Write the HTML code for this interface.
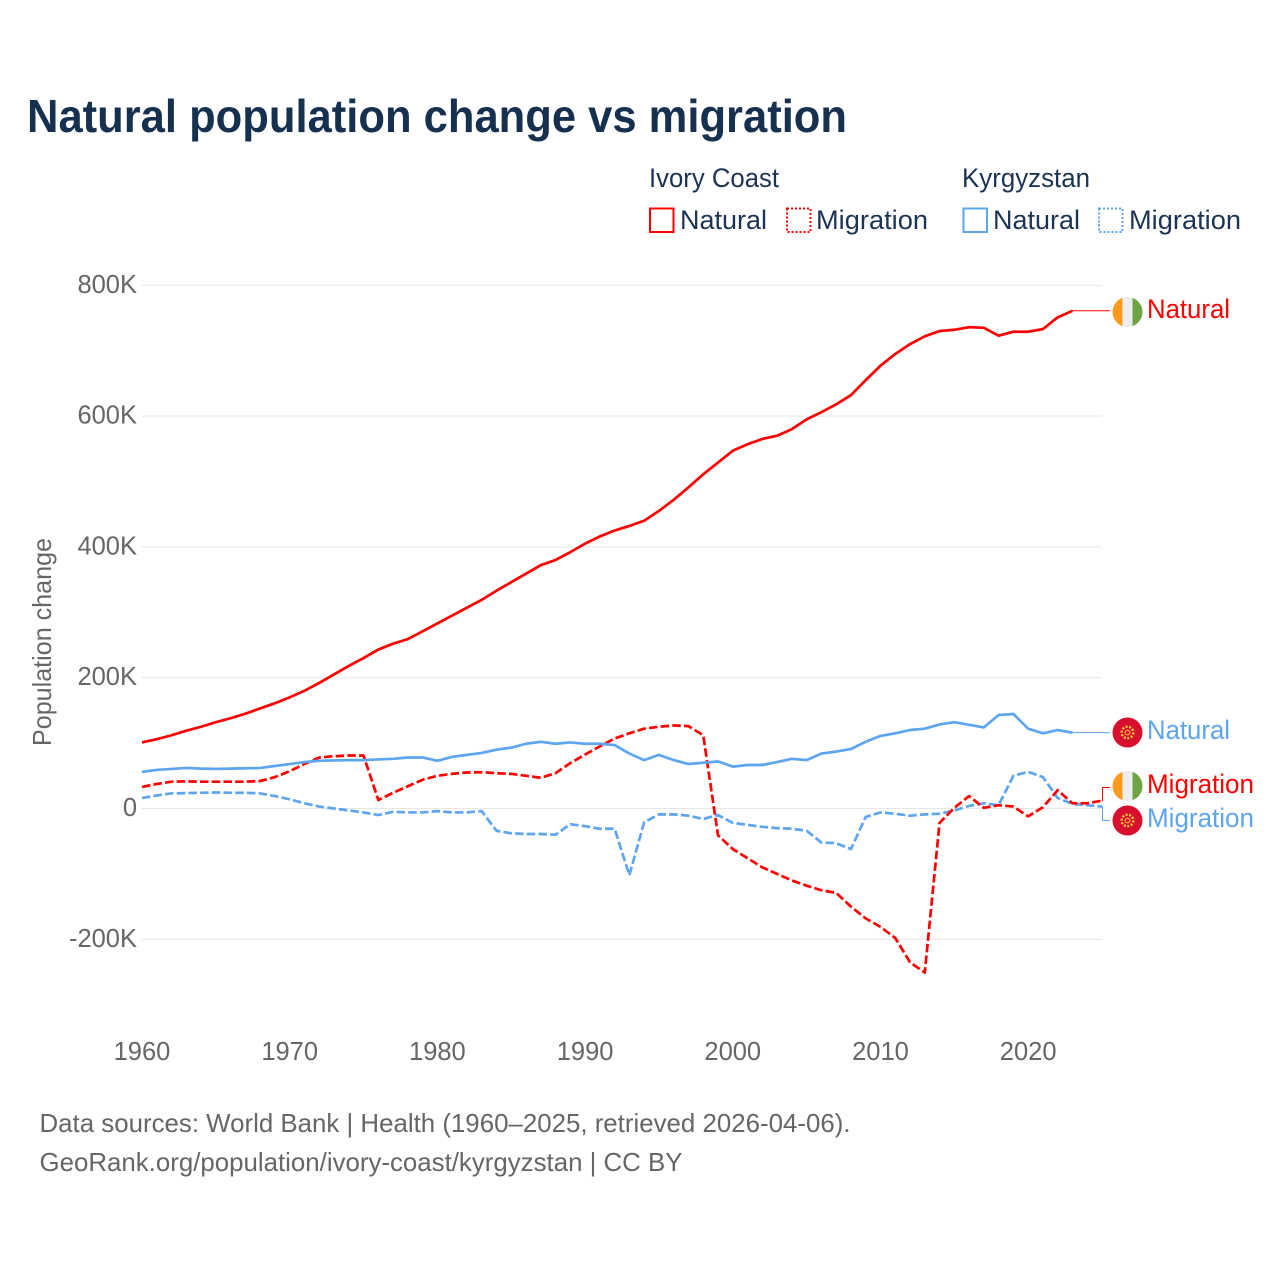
<!DOCTYPE html>
<html lang="en">
<head>
<meta charset="utf-8">
<title>Natural population change vs migration</title>
<style>
html,body{margin:0;padding:0;background:#fff;}
svg{display:block;}
text{font-family:"Liberation Sans",sans-serif;}
</style>
</head>
<body>
<svg id="chart" xmlns="http://www.w3.org/2000/svg" width="1280" height="1280" viewBox="0 0 1280 1280">
  <rect x="0" y="0" width="1280" height="1280" fill="#ffffff"/>
  <text x="27" y="132" font-size="46" font-weight="700" fill="#16304f" textLength="820" lengthAdjust="spacingAndGlyphs">Natural population change vs migration</text>

  <g font-size="26.5" fill="#1b3454">
    <text x="649" y="187" textLength="130" lengthAdjust="spacingAndGlyphs">Ivory Coast</text>
    <text x="962" y="187" textLength="128" lengthAdjust="spacingAndGlyphs">Kyrgyzstan</text>
    <rect x="650" y="208.5" width="23.5" height="23.5" fill="none" stroke="#ff0000" stroke-width="2"/>
    <text x="680" y="229" textLength="87" lengthAdjust="spacingAndGlyphs">Natural</text>
    <rect x="787" y="208.5" width="23.5" height="23.5" fill="none" stroke="#ff0000" stroke-width="2" stroke-dasharray="2 2"/>
    <text x="816" y="229" textLength="112" lengthAdjust="spacingAndGlyphs">Migration</text>
    <rect x="963.5" y="208.5" width="23.5" height="23.5" fill="none" stroke="#5ea5ef" stroke-width="2"/>
    <text x="993" y="229" textLength="87" lengthAdjust="spacingAndGlyphs">Natural</text>
    <rect x="1099" y="208.5" width="23.5" height="23.5" fill="none" stroke="#5ea5ef" stroke-width="2" stroke-dasharray="2 2"/>
    <text x="1129" y="229" textLength="112" lengthAdjust="spacingAndGlyphs">Migration</text>
  </g>

  <g id="grid"></g>
  <g id="yticks" font-size="25.5" fill="#666666" text-anchor="end"></g>
  <g id="xticks" font-size="25.5" fill="#666666" text-anchor="middle"></g>
  <text transform="translate(51,746) rotate(-90)" font-size="26" fill="#666666" textLength="208" lengthAdjust="spacingAndGlyphs">Population change</text>

  <g id="connectors"></g>
  <g id="series"></g>

  <defs>
    <clipPath id="flag-clip"><circle cx="0" cy="0" r="15"/></clipPath>
  </defs>

  <g transform="translate(1127.5,312)">
    <g clip-path="url(#flag-clip)">
      <rect x="-15" y="-15" width="10" height="30" fill="#ff9a1f"/>
      <rect x="-5" y="-15" width="10" height="30" fill="#eeeeee"/>
      <rect x="5" y="-15" width="10" height="30" fill="#6da544"/>
    </g>
  </g>
  <g transform="translate(1127.5,786)">
    <g clip-path="url(#flag-clip)">
      <rect x="-15" y="-15" width="10" height="30" fill="#ff9a1f"/>
      <rect x="-5" y="-15" width="10" height="30" fill="#eeeeee"/>
      <rect x="5" y="-15" width="10" height="30" fill="#6da544"/>
    </g>
  </g>
  <g transform="translate(1127.5,732.5)">
    <circle r="15" fill="#d80f2e"/>
    <circle r="5.8" fill="none" stroke="#ffce3a" stroke-width="2.4" stroke-dasharray="2 1.6"/>
    <circle r="2.4" fill="none" stroke="#ffce3a" stroke-width="1"/>
  </g>
  <g transform="translate(1127.5,820.5)">
    <circle r="15" fill="#d80f2e"/>
    <circle r="5.8" fill="none" stroke="#ffce3a" stroke-width="2.4" stroke-dasharray="2 1.6"/>
    <circle r="2.4" fill="none" stroke="#ffce3a" stroke-width="1"/>
  </g>

  <g font-size="26.5">
    <text x="1147" y="318" fill="#ff0000" textLength="83" lengthAdjust="spacingAndGlyphs">Natural</text>
    <text x="1147" y="739" fill="#5ea5ef" textLength="83" lengthAdjust="spacingAndGlyphs">Natural</text>
    <text x="1147" y="793" fill="#ff0000" textLength="107" lengthAdjust="spacingAndGlyphs">Migration</text>
    <text x="1147" y="827" fill="#5ea5ef" textLength="107" lengthAdjust="spacingAndGlyphs">Migration</text>
  </g>

  <g font-size="26" fill="#666666">
    <text x="39.5" y="1132" textLength="811" lengthAdjust="spacingAndGlyphs">Data sources: World Bank | Health (1960–2025, retrieved 2026-04-06).</text>
    <text x="39.5" y="1171" textLength="643" lengthAdjust="spacingAndGlyphs">GeoRank.org/population/ivory-coast/kyrgyzstan | CC BY</text>
  </g>
</svg>

<script>
const startYear = 1960;
const xTickLabels = [1960, 1970, 1980, 1990, 2000, 2010, 2020];
const yTickValues = [-200, 0, 200, 400, 600, 800];
const yTickLabels = ["-200K", "0", "200K", "400K", "600K", "800K"];

const ivoryNatural = [101,106,112,119,125,132,138,145,153,161,170,180,192,205,218,230,243,252,259,271,283,295,307,319,333,346,359,372,380,392,405,416,425,432,440,455,472,491,511,529,547,557,565,570,580,595,606,618,632,655,677,695,710,722,730,732,736,735,723,729,729,733,751,761];
const kyrgyzNatural = [56,59,60.5,62,61,60.5,61,61.5,62,65,68,71,73,73.5,74,74,75,76,78,78,73,79,82,85,90,93,99,102,99,101,99,99,97,84,74,82,74,68,70,72,64,66.5,66.5,71,76,74,84,87,91,102,111,115,120,122,128.5,132,128,124,143,144.5,122,115,120,116];
const ivoryMigration = [33,37.5,41,41.5,41,41,41,41,42,48,57,68,78,80,81,81,13,24,34,44,50,53,55,55.5,54,53,50,47,54,69.5,82.5,95,107,115,122,125,127,126,112,-41,-62,-76,-90,-100,-110,-118,-125,-129,-150,-168,-181,-198,-235,-251,-22,1,19,1,5,3,-12,2,28,8,8,12];
const kyrgyzMigration = [16,20,23,23.5,24,24.5,24,24,23,19,14,8,3,0,-3,-6,-10,-5,-6,-6,-4,-6,-6,-4,-34,-38,-39,-39,-40,-24,-27,-31,-31,-102,-21,-9,-9,-11,-16,-10,-22,-25,-28,-30,-31,-34,-52,-53,-62,-13,-6,-8,-11,-9,-8,-3,4,8,5,50,56,48,16,7,5,3];

const NS = "http://www.w3.org/2000/svg";
const RED = "#ff0000";
const BLUE = "#5ea5ef";

function xScale(year) { return 142 + (year - startYear) * (960 / 65); }
function yScale(value) { return 808.5 - value * 0.654; }

function pathFrom(values) {
  return values.map(function (v, i) {
    return (i ? "L" : "M") + xScale(startYear + i).toFixed(2) + " " + yScale(v).toFixed(2);
  }).join(" ");
}

const grid = document.getElementById("grid");
const yticks = document.getElementById("yticks");
yTickValues.forEach(function (v, i) {
  const line = document.createElementNS(NS, "line");
  
  
  line.setAttribute("x1", 142);
  line.setAttribute("x2", 1102);
  line.setAttribute("y1", yScale(v));
  line.setAttribute("y2", yScale(v));
  line.setAttribute("stroke", "#e6e6e6");
  line.setAttribute("stroke-width", 1);
  grid.appendChild(line);

  const t = document.createElementNS(NS, "text");
  
  
  t.setAttribute("x", 137);
  t.setAttribute("y", yScale(v) + 7.5);
  t.textContent = yTickLabels[i];
  yticks.appendChild(t);
});

const xticks = document.getElementById("xticks");
xTickLabels.forEach(function (yr) {
  const t = document.createElementNS(NS, "text");
  
  
  t.setAttribute("x", xScale(yr));
  t.setAttribute("y", 1060);
  t.textContent = yr;
  xticks.appendChild(t);
});

function lastPoint(values) {
  const i = values.length - 1;
  return [xScale(startYear + i), yScale(values[i])];
}

const connectors = document.getElementById("connectors");

function addConnector(values, labelY, color, name) {
  const p = lastPoint(values);
  const c = document.createElementNS(NS, "path");
  
  
  let d;
  if (Math.abs(p[1] - labelY) < 3) {
    d = "M" + p[0] + " " + p[1] + " L1110 " + p[1];
  } else {
    d = "M" + p[0] + " " + p[1] + " L1102.5 " + p[1] + " L1102.5 " + labelY + " L1110 " + labelY;
  }
  c.setAttribute("d", d);
  c.setAttribute("fill", "none");
  c.setAttribute("stroke", color);
  c.setAttribute("stroke-width", 1);
  connectors.appendChild(c);
}

addConnector(ivoryNatural, 312, RED, 'connector-ivory-coast-natural');
addConnector(kyrgyzNatural, 732.5, BLUE, 'connector-kyrgyzstan-natural');
addConnector(ivoryMigration, 787.5, RED, 'connector-ivory-coast-migration');
addConnector(kyrgyzMigration, 820.5, BLUE, 'connector-kyrgyzstan-migration');

const seriesGroup = document.getElementById("series");

function addSeries(values, color, dashed, name) {
  const p = document.createElementNS(NS, "path");
  
  
  p.setAttribute("d", pathFrom(values));
  p.setAttribute("fill", "none");
  p.setAttribute("stroke", color);
  p.setAttribute("stroke-width", 2.7);
  p.setAttribute("stroke-linejoin", "round");
  if (dashed) p.setAttribute("stroke-dasharray", "8.5 3.2");
  seriesGroup.appendChild(p);
}

addSeries(kyrgyzMigration, BLUE, true, 'line-kyrgyzstan-migration');
addSeries(ivoryMigration, RED, true, 'line-ivory-coast-migration');
addSeries(kyrgyzNatural, BLUE, false, 'line-kyrgyzstan-natural');
addSeries(ivoryNatural, RED, false, 'line-ivory-coast-natural');
</script>
</body>
</html>
